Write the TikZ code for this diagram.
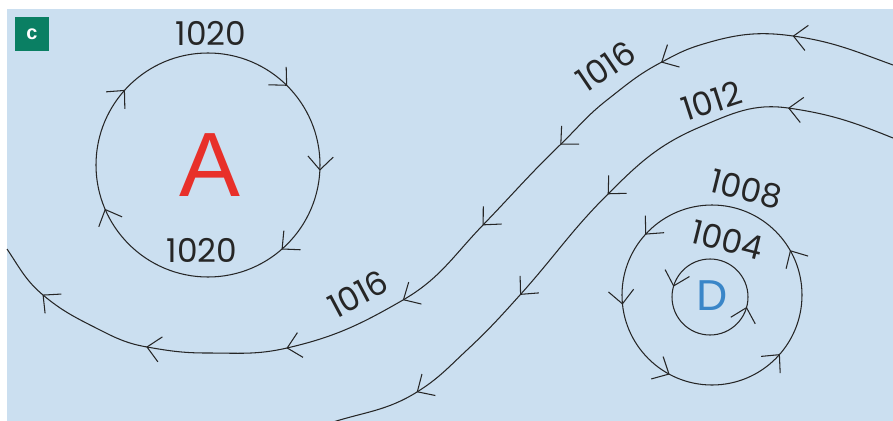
\documentclass[tikz,border=0pt]{standalone}
\usepackage{fontspec}
\setmainfont{Liberation Sans}
\newfontfamily\isofont{Poppins}
\usetikzlibrary{arrows.meta,decorations.markings}
\definecolor{seabg}{HTML}{CBDFF0}
\definecolor{taggreen}{HTML}{0A7F63}
\definecolor{highred}{HTML}{E8302A}
\definecolor{lowblue}{HTML}{3A86C8}
\definecolor{isoline}{HTML}{262626}
\tikzset
{
    flow/.tip       = {Straight Barb[length=4mm, width=7.6mm]},
    isobar/.style   = {draw=isoline, line width=0.9pt},
    arrowsat/.style = {postaction={decorate, decoration={markings, mark=at position #1 with {\arrow{flow}}}}},
    pressure/.style = {font=\isofont\fontsize{28}{28}\selectfont, text=isoline, inner sep=0pt},
    centre/.style   = {font=\fontsize{#1}{#1}\selectfont, inner sep=0pt}
}

\begin{document}
\begin{tikzpicture}[x=0.03cm, y=-0.03cm]
    \useasboundingbox (0,0) rectangle (893,421);
    \fill[seabg] (7,9) rectangle (893,421);
    \node (tag) [fill=taggreen, text=white, minimum size=1.02cm, inner sep=0pt, font=\bfseries\fontsize{17}{17}\selectfont] at (32,34) {c};

    \node (high) [centre=78, text=highred] at (210,165) {A};
    \draw[isobar, arrowsat/.list={0.008,0.136,0.436,0.617,0.875}] (high.center) ++(110,0) arc[start angle=0, end angle=360, radius=112];
    \node (hightop) [pressure] at (211,33) {1020};
    \node (highbot) [pressure] at (202,250) {1020};

    \node (low) [centre=37, text=lowblue] at (712,296) {D};
    \draw[isobar, arrowsat/.list={0.083,0.383,0.517,0.672,0.886}] (low.center) ++(90,-1) arc[start angle=0, end angle=-360, radius=90];
    \draw[isobar, arrowsat/.list={0.456,0.958}] (low.center) ++(36,1) arc[start angle=0, end angle=-360, radius=38];
    \node (lowout) [pressure, rotate=-14] at (746,189) {1008};
    \node (lowin) [pressure, rotate=-14] at (727,240) {1004};

    \draw[isobar, arrowsat/.list={0.101,0.233,0.359,0.467,0.573,0.695,0.831,0.944}]
        (893,65) to[out=160, in=-8] (793,36) to[out=172, in=17] (700,45)
        to[out=197, in=28] (660,63) to[out=208, in=38] (607,100)
        to[out=218, in=44] (560,145) to[out=224, in=46] (483,225)
        to[out=226, in=30] (403,300) to[out=210, in=13] (287,348)
        to[out=193, in=0] (207,353) to[out=180, in=-10] (147,347)
        to[out=170, in=-27] (100,330) to[out=153, in=-40] (43,295)
        to[out=140, in=-56] (7,249);
    \node (westlow) [pressure, rotate=28] at (358,294) {1016};
    \node (westup) [pressure, rotate=34] at (606,66) {1016};

    \draw[isobar, arrowsat/.list={0.16,0.462,0.657,0.865}]
        (893,138) to[out=158, in=-8] (788,108) to[out=172, in=23] (700,127)
        to[out=203, in=45] (607,195) to[out=225, in=48] (520,295)
        to[out=228, in=43] (467,350) to[out=223, in=32] (417,392)
        to[out=212, in=18] (330,423);
    \node (mid) [pressure, rotate=18] at (712,101) {1012};
\end{tikzpicture}
\end{document}
